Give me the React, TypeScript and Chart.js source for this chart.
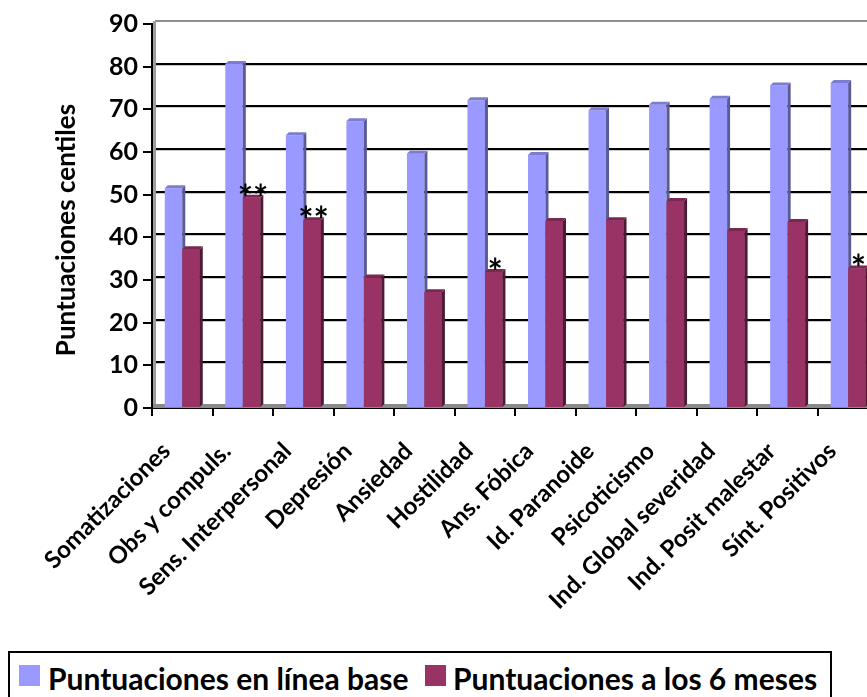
import React, { useEffect, useRef } from "react";
import { Chart, registerables } from "chart.js";

Chart.register(...registerables);

// ---- data ----
const categories = [
  "Somatizaciones",
  "Obs y compuls.",
  "Sens. Interpersonal",
  "Depresión",
  "Ansiedad",
  "Hostilidad",
  "Ans. Fóbica",
  "Id. Paranoide",
  "Psicoticismo",
  "Ind. Global severidad",
  "Ind. Posit malestar",
  "Sínt. Positivos",
];
const baselineScores = [51.5, 80.6, 63.9, 67.2, 59.6, 72.1, 59.3, 69.8, 71.1, 72.5, 75.6, 76.2];
const sixMonthScores = [37.2, 49.3, 44.0, 30.6, 27.1, 31.9, 43.8, 44.0, 48.5, 41.5, 43.6, 32.7];
const significance = ["", "**", "**", "", "", "*", "", "", "", "", "", "*"];
const seriesLabels = ["Puntuaciones en línea base", "Puntuaciones a los 6 meses"];
const yAxisTitle = "Puntuaciones centiles";
const yMin = 0;
const yMax = 90;
const yStep = 10;

// ---- styles ----
const FONT = "Lato, 'Open Sans', sans-serif";
const BLUE = "#9999FF";
const BLUE_SIDE = "#5A5A96";
const BLUE_TOP = "#7C7CD0";
const MAROON = "#993366";
const MAROON_SIDE = "#4E1A34";
const MAROON_TOP = "#7A2851";
const DEPTH = 3;

function drawFaces(ctx: CanvasRenderingContext2D, bar: any, side: string, top: string) {
  const { x, y, base, width } = bar.getProps(["x", "y", "base", "width"], true);
  const l = x - width / 2;
  const r = x + width / 2;
  ctx.fillStyle = side;
  ctx.beginPath();
  ctx.moveTo(r, y);
  ctx.lineTo(r + DEPTH, y - DEPTH);
  ctx.lineTo(r + DEPTH, base - DEPTH);
  ctx.lineTo(r, base);
  ctx.closePath();
  ctx.fill();
  ctx.fillStyle = top;
  ctx.beginPath();
  ctx.moveTo(l, y);
  ctx.lineTo(l + DEPTH, y - DEPTH);
  ctx.lineTo(r + DEPTH, y - DEPTH);
  ctx.lineTo(r, y);
  ctx.closePath();
  ctx.fill();
}

const wallPlugin = {
  id: "wall3d",
  beforeDatasetsDraw(chart: any) {
    const { ctx, chartArea, scales } = chart;
    const y = scales.y;
    const left = chartArea.left;
    const right = chartArea.right + 30;
    const topY = y.getPixelForValue(yMax) - DEPTH;
    const bottom = chartArea.bottom;
    ctx.save();
    // left wall
    ctx.fillStyle = "#a0a0a0";
    ctx.fillRect(left + 1, topY, DEPTH, bottom - topY);
    // floor
    ctx.fillStyle = "#8a8a8a";
    ctx.fillRect(left + 1, bottom - DEPTH - 1, right - left, DEPTH + 1);
    // grid lines on back wall
    for (let v = yMin + yStep; v < yMax; v += yStep) {
      const py = Math.round(y.getPixelForValue(v) - DEPTH);
      ctx.strokeStyle = "#c8c8c8";
      ctx.lineWidth = 1;
      ctx.beginPath();
      ctx.moveTo(left + DEPTH, py + 1.5);
      ctx.lineTo(right, py + 1.5);
      ctx.stroke();
      ctx.strokeStyle = "#000000";
      ctx.lineWidth = 2;
      ctx.beginPath();
      ctx.moveTo(left + DEPTH, py);
      ctx.lineTo(right, py);
      ctx.stroke();
    }
    // top border of wall
    ctx.strokeStyle = "#8f8f8f";
    ctx.lineWidth = 2;
    ctx.beginPath();
    ctx.moveTo(left + DEPTH, Math.round(topY));
    ctx.lineTo(right, Math.round(topY));
    ctx.stroke();
    ctx.beginPath();
    ctx.moveTo(left + DEPTH + 0.5, topY);
    ctx.lineTo(left + DEPTH + 0.5, bottom - DEPTH);
    ctx.strokeStyle = "#9a9a9a";
    ctx.lineWidth = 1;
    ctx.stroke();
    ctx.restore();
  },
  afterDatasetsDraw(chart: any) {
    const { ctx } = chart;
    const m0 = chart.getDatasetMeta(0);
    const m1 = chart.getDatasetMeta(1);
    ctx.save();
    for (let i = 0; i < categories.length; i++) {
      drawFaces(ctx, m0.data[i], BLUE_SIDE, BLUE_TOP);
      m1.data[i].draw(ctx);
      drawFaces(ctx, m1.data[i], MAROON_SIDE, MAROON_TOP);
    }
    ctx.fillStyle = "#000";
    ctx.font = `bold 36px ${FONT}`;
    ctx.textAlign = "center";
    ctx.textBaseline = "alphabetic";
    for (let i = 0; i < categories.length; i++) {
      if (!significance[i]) continue;
      const b = m1.data[i].getProps(["x", "y"], true);
      ctx.fillText(significance[i], b.x + 1.5, b.y + 13);
    }
    ctx.restore();
  },
  afterDraw(chart: any) {
    const { ctx } = chart;
    ctx.save();
    ctx.translate(67, 230);
    ctx.rotate(-Math.PI / 2);
    ctx.font = `bold 26px ${FONT}`;
    ctx.fillStyle = "#000";
    ctx.textAlign = "center";
    ctx.textBaseline = "middle";
    ctx.fillText(yAxisTitle, 0, 0);
    ctx.restore();
  },
};

export default function App() {
  const ref = useRef<HTMLCanvasElement | null>(null);

  useEffect(() => {
    if (!ref.current) return;
    const chart = new Chart(ref.current, {
      type: "bar",
      data: {
        labels: categories,
        datasets: [
          {
            label: seriesLabels[0],
            data: baselineScores,
            backgroundColor: BLUE,
            borderWidth: 0,
            categoryPercentage: 0.578,
            barPercentage: 1,
          },
          {
            label: seriesLabels[1],
            data: sixMonthScores,
            backgroundColor: MAROON,
            borderWidth: 0,
            categoryPercentage: 0.578,
            barPercentage: 1,
          },
        ],
      },
      options: {
        animation: false,
        responsive: false,
        maintainAspectRatio: false,
        layout: { padding: { top: 24, right: 11, bottom: 0, left: 0 } },
        plugins: {
          legend: { display: false },
          tooltip: { enabled: false },
        },
        scales: {
          x: {
            afterFit: (s: any) => {
              s.height = 289;
            },
            grid: {
              display: true,
              drawOnChartArea: false,
              drawTicks: true,
              tickLength: 8,
              color: "#000",
              lineWidth: 2,
            },
            border: { display: true, color: "#000", width: 2 },
            ticks: {
              autoSkip: false,
              maxRotation: 45,
              minRotation: 45,
              padding: 21,
              labelOffset: -16,
              color: "#000",
              font: { family: FONT, size: 24, weight: "bold" },
            },
          },
          y: {
            min: yMin,
            max: yMax,
            afterFit: (s: any) => {
              s.width = 152;
            },
            grid: {
              display: true,
              drawOnChartArea: false,
              drawTicks: true,
              tickLength: 9,
              color: "#000",
              lineWidth: 2,
            },
            border: { display: true, color: "#000", width: 2 },
            ticks: {
              stepSize: yStep,
              padding: 5,
              color: "#000",
              font: { family: FONT, size: 25, weight: "bold" },
            },
          },
        },
      },
      plugins: [wallPlugin],
    });
    return () => chart.destroy();
  }, []);

  const legendText: React.CSSProperties = {
    position: "absolute",
    top: 7,
    font: `bold 30px ${FONT}`,
    lineHeight: "36px",
    color: "#000",
    whiteSpace: "nowrap",
  };
  const sq = (left: number, color: string): React.CSSProperties => ({
    position: "absolute",
    left,
    top: 12,
    width: 21,
    height: 21,
    background: color,
  });

  return (
    <div
      style={{
        position: "fixed",
        left: 0,
        top: 0,
        width: 867,
        height: 697,
        overflow: "hidden",
        background: "#fff",
      }}
    >
      <canvas ref={ref} width={890} height={697} style={{ display: "block", width: 890, height: 697 }} />
      <div
        style={{
          position: "absolute",
          left: 8,
          top: 651,
          width: 824,
          height: 80,
          border: "2px solid #000",
          boxSizing: "border-box",
          background: "#fff",
        }}
      >
        <div style={sq(9, BLUE)} />
        <span style={{ ...legendText, left: 38 }}>{seriesLabels[0]}</span>
        <div style={sq(415, MAROON)} />
        <span style={{ ...legendText, left: 443 }}>{seriesLabels[1]}</span>
      </div>
    </div>
  );
}
